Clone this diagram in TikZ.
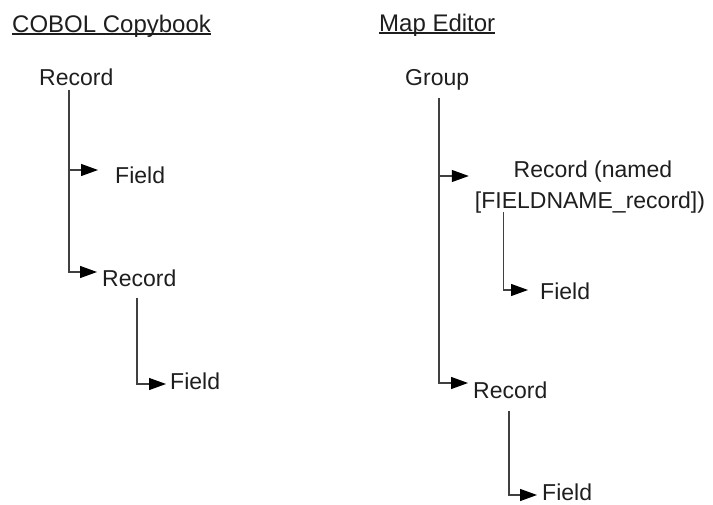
\documentclass[tikz,border=0pt]{standalone}
\usepackage{fontspec}
\setmainfont{Liberation Sans}
\usetikzlibrary{arrows.meta,calc}
\definecolor{ink}{HTML}{1E1E1E}
\definecolor{wire}{HTML}{404040}
\tikzset{
  lbl/.style={anchor=base west,inner sep=0pt,text=ink,font=\fontsize{23}{27}\selectfont},
  ttl/.style={anchor=base west,inner sep=0pt,text=ink,font=\fontsize{24}{28}\selectfont},
  conn/.style={draw=wire,line width=1.2pt,-{Triangle[length=17pt,width=12pt,color=black]}},
  uline/.style={draw=ink,line width=1.2pt}
}
\begin{document}
\begin{tikzpicture}[x=1pt,y=-1pt]
\useasboundingbox (0,0) rectangle (713,504);
% titles
\node[ttl] (t1) at (12,32) {COBOL Copybook};
\node[ttl] (t2) at (379,31) {Map Editor};
\draw[uline] ($(t1.base west)+(0,2)$) -- ($(t1.base east)+(0,2)$);
\draw[uline] ($(t2.base west)+(0,2)$) -- ($(t2.base east)+(0,2)$);
% left tree
\node[lbl] (rec1) at (39,85) {Record};
\node[lbl] (field1) at (115,183) {Field};
\node[lbl] (rec2) at (102,286) {Record};
\node[lbl] (field2) at (170,389) {Field};
\coordinate (s1) at ($(rec1.base west)+(30,5)$);
\draw[conn] (s1) |- ($(field1.base west)+(-17,-13)$);
\draw[conn] (s1) |- ($(rec2.base west)+(-5,-14)$);
\draw[conn] ($(rec2.base west)+(35,12)$) |- ($(field2.base west)+(-4,-5)$);
% right tree
\node[lbl] (grp) at (405,85) {Group};
\node[lbl,anchor=base] (rn1) at (593,177) {Record (named};
\node[lbl,anchor=base] (rn2) at (590,208) {[FIELDNAME\_record])};
\node[lbl] (field3) at (540,299) {Field};
\node[lbl] (rec3) at (473,398) {Record};
\node[lbl] (field4) at (542,500) {Field};
\coordinate (s2) at ($(grp.base west)+(34,13)$);
\draw[conn] (s2) |- ($(rn2.base west)+(-6,-32)$);
\draw[conn] (s2) |- ($(rec3.base west)+(-5,-15)$);
\draw[conn] ($(rn2.base west)+(29,4)$) |- ($(field3.base west)+(-12,-9)$);
\draw[conn] ($(rec3.base west)+(36,13)$) |- ($(field4.base west)+(-5,-5)$);
\end{tikzpicture}
\end{document}
